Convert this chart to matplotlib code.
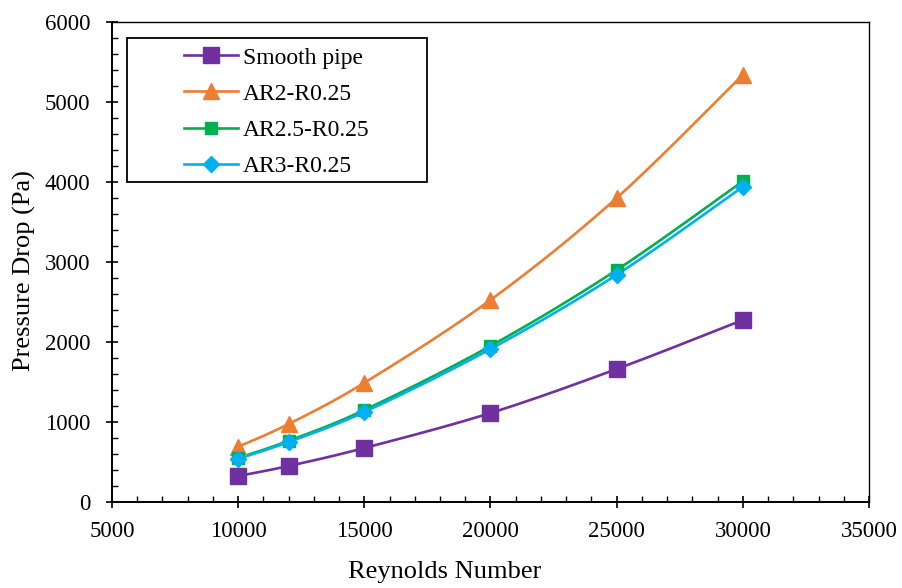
import numpy as np
import matplotlib.pyplot as plt
from matplotlib.patches import Rectangle
from matplotlib.ticker import MultipleLocator

plt.rcParams["font.family"] = ["Liberation Serif", "DejaVu Serif"]

reynolds = [10000, 12000, 15000, 20000, 25000, 30000]
dp_smooth = [325, 450, 675, 1112, 1662, 2275]
dp_ar2 = [690, 975, 1490, 2525, 3800, 5340]
dp_ar25 = [550, 765, 1150, 1950, 2900, 4010]
dp_ar3 = [540, 750, 1125, 1912, 2840, 3940]

series = [
    ("Smooth pipe", dp_smooth, "#7030A0", "s", 11),
    ("AR2-R0.25", dp_ar2, "#ED7D31", "^", 12),
    ("AR2.5-R0.25", dp_ar25, "#00B050", "s", 8),
    ("AR3-R0.25", dp_ar3, "#00B0F0", "D", 8),
]

X_MIN, X_MAX, Y_MIN, Y_MAX = 5000, 35000, 0, 6000


def smooth_curve(x, y, n=30):
    # bezier through the points (Catmull-Rom control points), in screen-like units
    sx = 756.0 / (X_MAX - X_MIN)
    sy = 480.0 / (Y_MAX - Y_MIN)
    p = np.column_stack([(np.asarray(x) - X_MIN) * sx, np.asarray(y) * sy])
    pts = []
    for i in range(len(p) - 1):
        p0 = p[i - 1] if i > 0 else p[i]
        p3 = p[i + 2] if i + 2 < len(p) else p[i + 1]
        p1, p2 = p[i], p[i + 1]
        c1 = p1 + (p2 - p0) / 6.0
        c2 = p2 - (p3 - p1) / 6.0
        t = np.linspace(0, 1, n)[:, None]
        seg = (1 - t) ** 3 * p1 + 3 * (1 - t) ** 2 * t * c1 + 3 * (1 - t) * t ** 2 * c2 + t ** 3 * p2
        pts.append(seg if i == 0 else seg[1:])
    pts = np.vstack(pts)
    return pts[:, 0] / sx + X_MIN, pts[:, 1] / sy


fig = plt.figure(figsize=(9.03, 5.88), dpi=100)
ax = fig.add_axes([112 / 903, 86 / 588, 757 / 903, 480 / 588])

for label, vals, color, marker, ms in series:
    cx, cy = smooth_curve(reynolds, vals)
    ax.plot(cx, cy, color=color, lw=1.9, zorder=2)
    ax.plot(reynolds, vals, linestyle="none", marker=marker, markersize=ms,
            color=color, zorder=3)
    # proxy artist for the legend
    ax.plot([], [], color=color, lw=1.9, marker=marker, markersize=ms, label=label)

ax.set_xlim(X_MIN, X_MAX)
ax.set_ylim(Y_MIN, Y_MAX)
ax.xaxis.set_major_locator(MultipleLocator(5000))
ax.xaxis.set_minor_locator(MultipleLocator(1000))
ax.yaxis.set_major_locator(MultipleLocator(1000))
ax.yaxis.set_minor_locator(MultipleLocator(200))

for side in ["top", "right"]:
    ax.spines[side].set_linewidth(1.0)
for side in ["left", "bottom"]:
    ax.spines[side].set_linewidth(1.4)

ax.tick_params(which="major", direction="inout", length=9, width=1.2, labelsize=16.5)
ax.tick_params(which="minor", direction="in", length=4.5, width=1.0)
ax.tick_params(axis="x", pad=9)
ax.tick_params(axis="y", pad=11)

ax.set_xlabel("Reynolds Number", fontsize=19)
ax.set_ylabel("Pressure Drop (Pa)", fontsize=19)
ax.xaxis.set_label_coords(0.439, -0.122)
ax.yaxis.set_label_coords(-0.100, 0.483)

# legend frame
box = Rectangle((15 / 757, (502 - 182) / 480), 300 / 757, 144 / 480,
                transform=ax.transAxes, fill=False, edgecolor="black", lw=1.3, zorder=4)
ax.add_patch(box)

ax.legend(
    loc="upper left",
    bbox_to_anchor=(72 / 757, (502 - 47) / 480),
    frameon=False,
    fontsize=17,
    handlelength=2.3,
    handletextpad=0.2,
    labelspacing=0.62,
    borderaxespad=0,
    borderpad=0,
)

fig.savefig("out.png", dpi=100)
